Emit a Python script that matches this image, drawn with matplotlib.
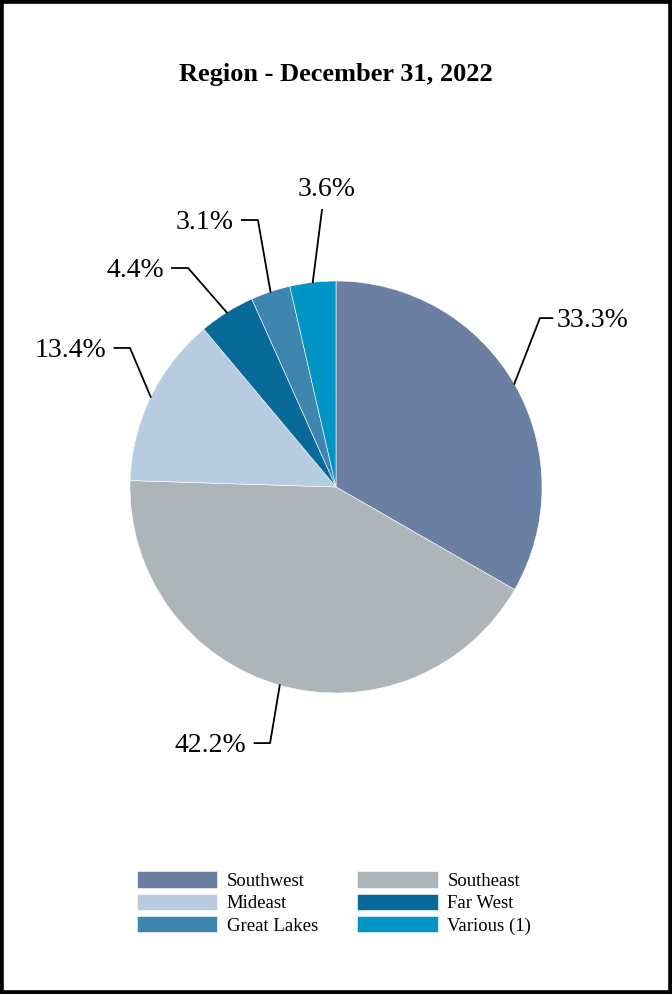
import numpy as np
import matplotlib
matplotlib.use('Agg')
from matplotlib import pyplot as plt
from matplotlib.patches import Rectangle

plt.rcParams['font.family'] = ['Liberation Serif', 'DejaVu Serif']

regions = ['Southwest', 'Southeast', 'Mideast', 'Far West', 'Great Lakes', 'Various (1)']
shares = [33.3, 42.2, 13.4, 4.4, 3.1, 3.6]
colors = ['#6B7FA3', '#ADB5B8', '#B7CCE0', '#086A99', '#3E86B0', '#0095C4']

# label layout: elbow point (in pie radii), horizontal tail length
elbows = [(0.990, 0.820), (-0.320, -1.243), (-1.000, 0.675),
          (-0.718, 1.063), (-0.379, 1.296), (-0.068, 1.345)]
tails = [0.06, -0.075, -0.075, -0.078, -0.078, 0.0]

fig = plt.figure(figsize=(6.72, 9.94), dpi=100)
ax = fig.add_axes([0, 0, 1, 1])
ax.axis('off')

wedges, _ = ax.pie(shares, colors=colors, startangle=90, counterclock=False,
                   radius=1.0, wedgeprops=dict(edgecolor='white', linewidth=0.4))
ax.set_aspect('auto')
ax.set_xlim(-1.631, 1.631)
ax.set_ylim(-2.461, 2.364)

for w, val, (ex, ey), t in zip(wedges, shares, elbows, tails):
    ang = np.deg2rad((w.theta1 + w.theta2) / 2)
    sx, sy = np.cos(ang), np.sin(ang)
    ax.plot([sx, ex, ex + t], [sy, ey, ey], color='black', lw=1.3)
    if t > 0:
        ax.text(ex + t + 0.02, ey - 0.01, f'{val}%', fontsize=20, ha='left', va='center')
    elif t < 0:
        ax.text(ex + t - 0.04, ey - 0.01, f'{val}%', fontsize=20, ha='right', va='center')
    else:
        ax.text(ex + 0.02, ey + 0.10, f'{val}%', fontsize=20, ha='center', va='center')

fig.text(0.5, 1 - 74 / 994, 'Region - December 31, 2022', fontsize=19,
         fontweight='bold', ha='center', va='center')

# legend fills row by row, matplotlib fills column by column
order = [0, 2, 4, 1, 3, 5]
fig.legend([wedges[i] for i in order], [regions[i] for i in order], loc='center',
           bbox_to_anchor=(0.497, 1 - 903 / 994),
           ncol=2, frameon=False, fontsize=13.5, handlelength=4.3, handleheight=0.95,
           labelspacing=0.2, handletextpad=0.5, columnspacing=2.1)

fig.patches.append(Rectangle((0, 0), 1, 1, transform=fig.transFigure,
                             fill=False, edgecolor='black', linewidth=5.5))

fig.savefig('out.png', dpi=100)
